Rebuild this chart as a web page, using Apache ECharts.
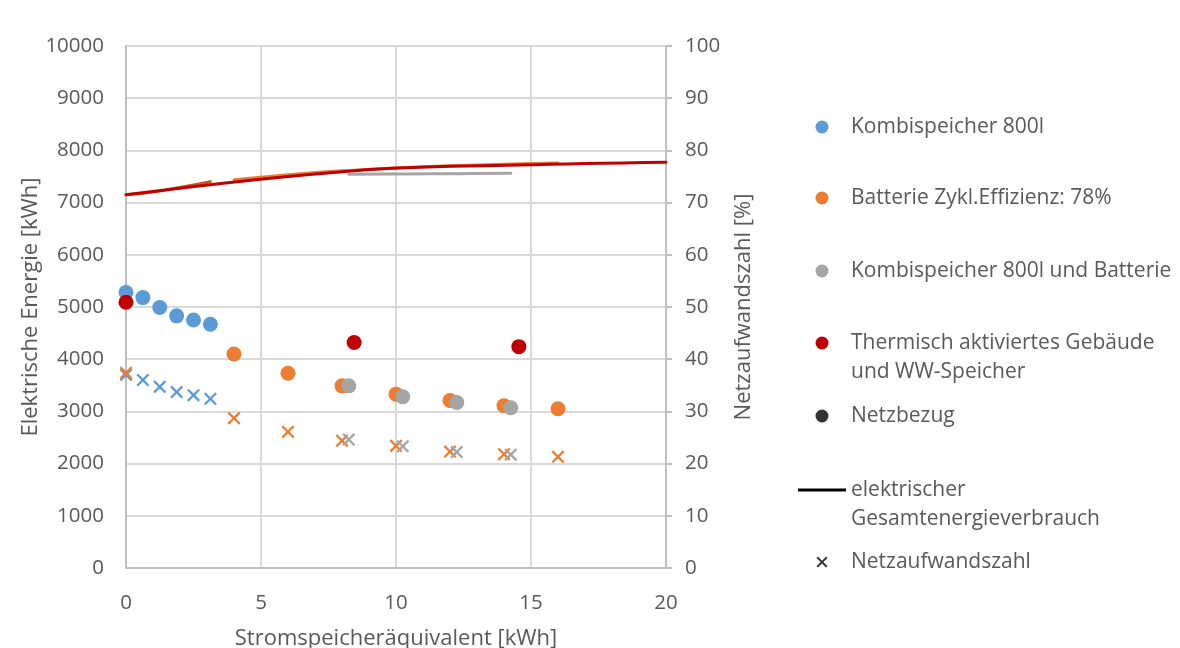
<!DOCTYPE html>
<html>
<head>
<meta charset="utf-8">
<script src="https://cdn.jsdelivr.net/npm/echarts@6/dist/echarts.min.js"></script>
<style>
  html, body { margin: 0; padding: 0; background: #fff; }
  #chart { width: 1180px; height: 648px; }
</style>
</head>
<body>
<div id="chart"></div>
<script>
// x positions (Stromspeicheraequivalent, kWh)
var xKombi = [0, 0.625, 1.25, 1.875, 2.5, 3.125];
var xBatt = [4, 6, 8, 10, 12, 14, 16];
var xBattNaz = [0, 4, 6, 8, 10, 12, 14, 16];
var xKombiBatt = [8.25, 10.25, 12.25, 14.25];
var xThermo = [0, 8.45, 14.55];
var xThermoLine = [0, 8.45, 14.55, 20];

// Netzbezug [kWh]
var bezugKombi = [5280, 5180, 4990, 4830, 4750, 4670];
var bezugBatt = [4100, 3730, 3490, 3330, 3210, 3110, 3050];
var bezugKombiBatt = [3490, 3280, 3170, 3070];
var bezugThermo = [5090, 4320, 4240];

// elektrischer Gesamtenergieverbrauch [kWh]
var gesamtKombi = [7150, 7180, 7220, 7280, 7340, 7400];
var gesamtBatt = [7440, 7535, 7610, 7665, 7705, 7735, 7760];
var gesamtKombiBatt = [7545, 7550, 7555, 7560];
var gesamtThermo = [7150, 7610, 7720, 7775];

// Netzaufwandszahl [%]
var nazKombi = [37.0, 36.0, 34.7, 33.7, 33.1, 32.4];
var nazBatt = [37.4, 28.7, 26.1, 24.4, 23.4, 22.3, 21.8, 21.3];
var nazKombiBatt = [24.6, 23.3, 22.2, 21.7];

var leftTicks = [0, 10000, 1000];
var rightTicks = [0, 100, 10];
var xTicks = [0, 20, 5];

var BLUE = '#5b9bd5', ORANGE = '#ed7d31', GREY = '#a5a5a5', RED = '#c00000', BROWN = '#c55a11';
var TXT = '#595959';
var FONT = 'Open Sans';
var CROSS = 'path://M0,1.5 L1.5,0 L6,4.5 L10.5,0 L12,1.5 L7.5,6 L12,10.5 L10.5,12 L6,7.5 L1.5,12 L0,10.5 L4.5,6 Z';
var LINEICON = 'path://M0,0 L44,0 L44,2.6 L0,2.6 Z';

function zip(xs, ys) {
  return xs.map(function (x, i) { return [x, ys[i]]; });
}

function dots(name, xs, ys, color) {
  return {
    name: name, type: 'scatter', yAxisIndex: 0,
    symbol: 'circle', symbolSize: 15,
    itemStyle: { color: color, opacity: 1 },
    data: zip(xs, ys), z: 3
  };
}
function crosses(name, xs, ys, color) {
  return {
    name: name, type: 'scatter', yAxisIndex: 1,
    symbol: CROSS, symbolSize: 13,
    itemStyle: { color: color, opacity: 1 },
    data: zip(xs, ys), z: 4
  };
}
function curve(name, xs, ys, color, smooth) {
  return {
    name: name, type: 'line', yAxisIndex: 0,
    showSymbol: false, symbol: 'none', smooth: smooth ? 0.4 : false,
    lineStyle: { color: color, width: 3, cap: 'round' },
    itemStyle: { color: color },
    data: zip(xs, ys), z: 2
  };
}

var chart = echarts.init(document.getElementById('chart'));

// one legend block per entry so every row sits where the original has it
function legendItem(name, center, icon, iconH, twoLines) {
  var lh = twoLines ? 29 : 24;
  var isLine = icon === LINEICON;
  return {
    orient: 'vertical', padding: 0,
    left: isLine ? 798 : 822 - iconH / 2,
    top: twoLines ? center - 43.5 : center - lh / 2,
    itemWidth: 48, itemHeight: iconH,
    selectedMode: false,
    data: [{ name: name, icon: icon }],
    formatter: function (n) { return twoLines ? '\n' + n : n; },
    textStyle: { fontFamily: FONT, fontSize: 21, color: TXT, lineHeight: lh }
  };
}

var option = {
  backgroundColor: '#fff',
  animation: false,
  textStyle: { fontFamily: FONT },
  grid: { left: 126, right: 514, top: 46, bottom: 80, containLabel: false, outerBoundsMode: 'none' },
  legend: [
    legendItem('Kombispeicher 800l', 127, 'circle', 13),
    legendItem('Batterie Zykl.Effizienz: 78%', 198, 'circle', 13),
    legendItem('Kombispeicher 800l und Batterie', 271, 'circle', 13),
    legendItem('Thermisch aktiviertes Gebäude\nund WW-Speicher', 343, 'circle', 13, true),
    legendItem('Netzbezug', 416, 'circle', 13),
    legendItem('elektrischer\nGesamtenergieverbrauch', 490, LINEICON, 13, true),
    legendItem('Netzaufwandszahl', 562, CROSS, 11)
  ],
  xAxis: {
    type: 'value', min: xTicks[0], max: xTicks[1], interval: xTicks[2],
    name: 'Stromspeicheräquivalent [kWh]', nameLocation: 'middle', nameGap: 60,
    nameTextStyle: { fontFamily: FONT, fontSize: 22, color: TXT },
    axisLine: { show: true, lineStyle: { color: '#bfbfbf', width: 2 } },
    axisTick: { show: false },
    axisLabel: { fontFamily: FONT, fontSize: 20.5, color: TXT, margin: 25 },
    splitLine: { show: true, lineStyle: { color: '#d9d9d9', width: 2 } }
  },
  yAxis: [{
    type: 'value', min: leftTicks[0], max: leftTicks[1], interval: leftTicks[2],
    name: 'Elektrische Energie [kWh]', nameLocation: 'middle', nameGap: 84,
    nameTextStyle: { fontFamily: FONT, fontSize: 22, color: TXT },
    axisLine: { show: true, lineStyle: { color: '#bfbfbf', width: 2 } },
    axisTick: { show: false },
    axisLabel: { fontFamily: FONT, fontSize: 20.5, color: TXT, margin: 22, formatter: function (v) { return String(v); } },
    splitLine: { show: true, lineStyle: { color: '#d9d9d9', width: 2 } }
  }, {
    type: 'value', position: 'right', min: rightTicks[0], max: rightTicks[1], interval: rightTicks[2],
    name: 'Netzaufwandszahl [%]', nameLocation: 'middle', nameGap: 67, nameRotate: 90,
    nameTextStyle: { fontFamily: FONT, fontSize: 22, color: TXT },
    axisLine: { show: true, lineStyle: { color: '#bfbfbf', width: 2 } },
    axisTick: { show: true, length: 6, lineStyle: { color: '#bfbfbf', width: 2 } },
    axisLabel: { fontFamily: FONT, fontSize: 20.5, color: TXT, margin: 19 },
    splitLine: { show: false }
  }],
  series: [
    curve('Gesamt Kombispeicher', xKombi, gesamtKombi, BROWN),
    curve('Gesamt Batterie', xBatt, gesamtBatt, ORANGE, true),
    curve('Gesamt Kombispeicher und Batterie', xKombiBatt, gesamtKombiBatt, GREY, true),
    curve('Gesamt Thermisch', xThermoLine, gesamtThermo, RED, true),
    dots('Kombispeicher 800l', xKombi, bezugKombi, BLUE),
    dots('Batterie Zykl.Effizienz: 78%', xBatt, bezugBatt, ORANGE),
    dots('Kombispeicher 800l und Batterie', xKombiBatt, bezugKombiBatt, GREY),
    dots('Thermisch aktiviertes Gebäude\nund WW-Speicher', xThermo, bezugThermo, RED),
    crosses('NAZ Kombispeicher', xKombi, nazKombi, BLUE),
    crosses('NAZ Batterie', xBattNaz, nazBatt, ORANGE),
    crosses('NAZ Kombispeicher und Batterie', xKombiBatt, nazKombiBatt, GREY),
    // legend-only entries
    { name: 'Netzbezug', type: 'scatter', yAxisIndex: 0, itemStyle: { color: '#000' }, data: [] },
    { name: 'elektrischer\nGesamtenergieverbrauch', type: 'line', yAxisIndex: 0, itemStyle: { color: '#000' }, lineStyle: { color: '#000' }, data: [] },
    { name: 'Netzaufwandszahl', type: 'scatter', yAxisIndex: 1, symbol: CROSS, itemStyle: { color: '#000' }, data: [] }
  ]
};

chart.setOption(option);
</script>
</body>
</html>
